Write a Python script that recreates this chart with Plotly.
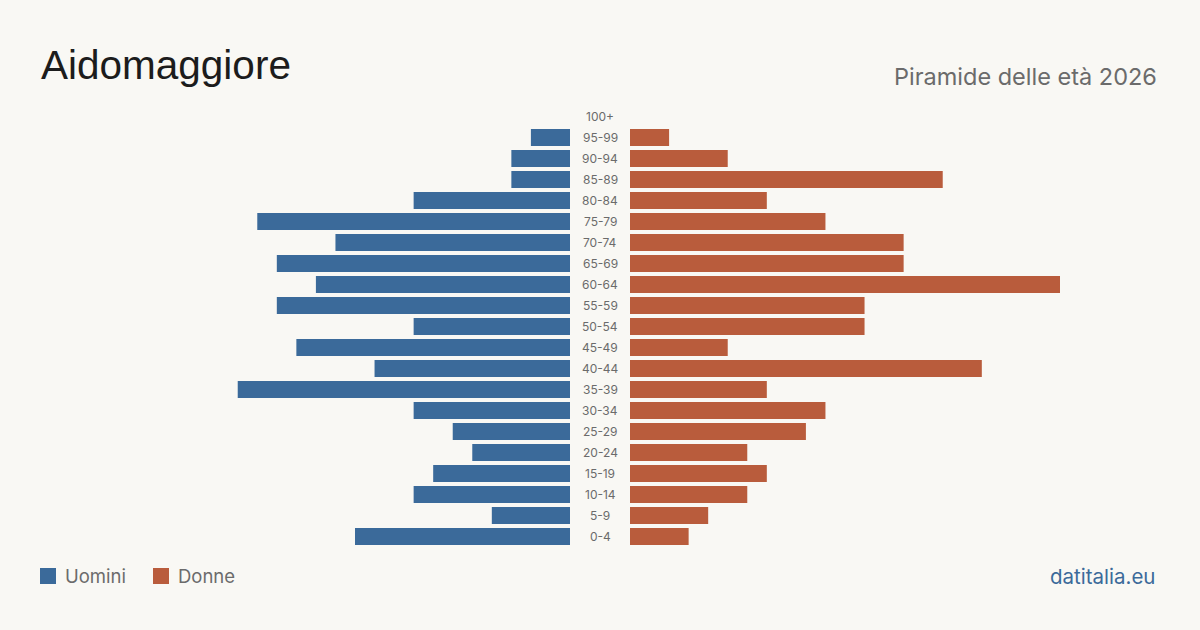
import plotly.graph_objects as go

W, H = 1200, 630

age_groups = ["0-4", "5-9", "10-14", "15-19", "20-24", "25-29", "30-34", "35-39",
              "40-44", "45-49", "50-54", "55-59", "60-64", "65-69", "70-74", "75-79",
              "80-84", "85-89", "90-94", "95-99", "100+"]
men = [11, 4, 8, 7, 5, 6, 8, 17, 10, 14, 8, 15, 13, 15, 12, 16, 8, 3, 3, 2, 0]
women = [3, 4, 6, 7, 6, 9, 10, 7, 18, 5, 12, 12, 22, 14, 14, 10, 7, 16, 5, 2, 0]

BG = "#f9f8f4"
BLUE = "#3b6a9a"
ORANGE = "#b95c3c"
FONT_T = "Liberation Sans"
FONT = "Inter"

def px_x(p):
    return p / W

def px_y(p):
    return 1 - p / H

xmax = max(max(men), max(women))

fig = go.Figure()
fig.add_trace(go.Bar(y=age_groups, x=men, orientation="h", marker_color=BLUE,
                     marker_line_width=0,
                     name="Uomini", xaxis="x", yaxis="y", showlegend=False,
                     hoverinfo="x+y"))
fig.add_trace(go.Bar(y=age_groups, x=women, orientation="h", marker_color=ORANGE,
                     marker_line_width=0,
                     name="Donne", xaxis="x2", yaxis="y", showlegend=False,
                     hoverinfo="x+y"))

ydom = [px_y(547), px_y(106)]
fig.update_layout(
    width=W, height=H,
    margin=dict(l=0, r=0, t=0, b=0),
    paper_bgcolor=BG, plot_bgcolor=BG,
    bargap=4/21,
    xaxis=dict(domain=[px_x(140), px_x(570)], range=[xmax, 0], visible=False,
               fixedrange=True),
    xaxis2=dict(domain=[px_x(630), px_x(1060)], range=[0, xmax], visible=False,
                fixedrange=True),
    yaxis=dict(domain=ydom, type="category", categoryorder="array",
               categoryarray=age_groups, range=[-0.5, len(age_groups) - 0.5],
               visible=False, fixedrange=True),
    font=dict(family=FONT),
)

annotations = []
for g in age_groups:
    annotations.append(dict(x=px_x(600), y=g, xref="paper", yref="y", text=g,
                            showarrow=False, xanchor="center", yanchor="middle",
                            font=dict(size=12, color="#6b6b6b", family=FONT)))

annotations += [
    dict(x=px_x(39), y=px_y(65), xref="paper", yref="paper", text="Aidomaggiore",
         showarrow=False, xanchor="left", yanchor="middle",
         font=dict(size=40.5, color="#1c1c1c", family=FONT_T)),
    dict(x=px_x(1159), y=px_y(76), xref="paper", yref="paper",
         text="Piramide delle età 2026", showarrow=False, xanchor="right",
         yanchor="middle", font=dict(size=23.5, color="#6b6b6b", family=FONT)),
    dict(x=px_x(63), y=px_y(576), xref="paper", yref="paper", text="Uomini",
         showarrow=False, xanchor="left", yanchor="middle",
         font=dict(size=18.5, color="#6b6b6b", family=FONT)),
    dict(x=px_x(176), y=px_y(576), xref="paper", yref="paper", text="Donne",
         showarrow=False, xanchor="left", yanchor="middle",
         font=dict(size=18.5, color="#6b6b6b", family=FONT)),
    dict(x=px_x(1157), y=px_y(576), xref="paper", yref="paper", text="datitalia.eu",
         showarrow=False, xanchor="right", yanchor="middle",
         font=dict(size=20.5, color=BLUE, family=FONT)),
]

shapes = [
    dict(type="rect", xref="paper", yref="paper", x0=px_x(40), x1=px_x(56),
         y0=px_y(584), y1=px_y(568), fillcolor=BLUE, line=dict(width=0)),
    dict(type="rect", xref="paper", yref="paper", x0=px_x(153), x1=px_x(169),
         y0=px_y(584), y1=px_y(568), fillcolor=ORANGE, line=dict(width=0)),
]

fig.update_layout(annotations=annotations, shapes=shapes)
fig.write_html("out.html", config={"displayModeBar": False})
